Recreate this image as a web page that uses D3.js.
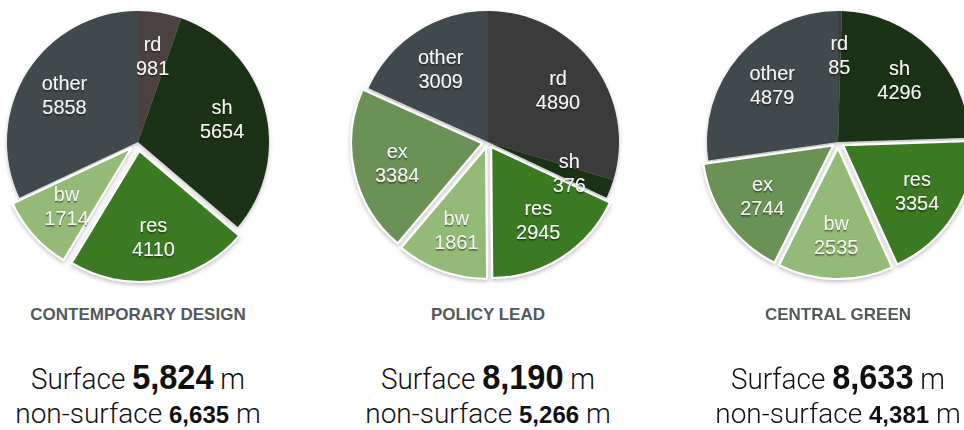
<!DOCTYPE html>
<html>
<head>
<meta charset="utf-8">
<script src="https://cdn.jsdelivr.net/npm/d3@7"></script>
<style>
  html, body { margin: 0; padding: 0; background: #ffffff; }
  svg { display: block; }
</style>
</head>
<body>
<svg id="chart" width="964" height="430"></svg>
<script>
// Length of path by category for three design options
const categories = ["rd", "sh", "res", "bw", "ex", "other"];
const designs = ["CONTEMPORARY DESIGN", "POLICY LEAD", "CENTRAL GREEN"];
const contemporaryValues = [981, 5654, 4110, 1714, 0, 5858];
const policyValues = [4890, 376, 2945, 1861, 3384, 3009];
const centralValues = [85, 4296, 3354, 2535, 2744, 4879];
const surfaceTotals = [5824, 8190, 8633];
const nonSurfaceTotals = [6635, 5266, 4381];
const pulledOut = ["res", "bw", "ex"];

const seriesByDesign = [contemporaryValues, policyValues, centralValues];

const svg = d3.select("#chart");

const radius = 131;
const pieY = 142;
const explode = [9, 6, 6];

const x = d3.scalePoint().domain(designs).range([138, 838]);

const palette = {
  rd: "#3c3b3a",
  sh: "#1b3217",
  res: "#3a7a23",
  bw: "#93ba76",
  ex: "#6a9157",
  other: "#3f484b"
};
const rdShade = ["#4a433f", "#3b3b3b", "#3b4144"];

const defs = svg.append("defs");
const pieShadow = defs.append("filter").attr("id", "pieShadow")
  .attr("x", "-20%").attr("y", "-20%").attr("width", "140%").attr("height", "140%");
pieShadow.append("feDropShadow")
  .attr("dx", 0).attr("dy", 2).attr("stdDeviation", 2)
  .attr("flood-color", "#000").attr("flood-opacity", 0.25);

const textShadow = defs.append("filter").attr("id", "textShadow")
  .attr("x", "-20%").attr("y", "-20%").attr("width", "140%").attr("height", "140%");
textShadow.append("feDropShadow")
  .attr("dx", 0).attr("dy", 1).attr("stdDeviation", 0.8)
  .attr("flood-color", "#000").attr("flood-opacity", 0.75);

const pie = d3.pie().sort(null).value(d => d.value);
const arc = d3.arc().innerRadius(0).outerRadius(radius);
const fmt = d3.format(",");

designs.forEach((name, i) => {
  const rows = categories.map((c, j) => ({ category: c, value: seriesByDesign[i][j] }))
    .filter(d => d.value > 0);
  const slices = pie(rows);
  const cx = x(name);

  const g = svg.append("g").attr("transform", `translate(${cx},${pieY})`);
  const pieG = g.append("g").attr("filter", "url(#pieShadow)");

  const isOut = d => pulledOut.includes(d.data.category);
  const shift = d => {
    if (!isOut(d)) return [0, 0];
    const a = (d.startAngle + d.endAngle) / 2;
    return [Math.sin(a) * explode[i], -Math.cos(a) * explode[i]];
  };

  // slices that stay in place first, pulled-out wedges on top with a white rim
  pieG.selectAll("path")
    .data(slices.slice().sort((a, b) => isOut(a) - isOut(b)))
    .join("path")
    .attr("transform", d => `translate(${shift(d)})`)
    .attr("d", arc)
    .attr("fill", d => d.data.category === "rd" ? rdShade[i] : palette[d.data.category])
    .attr("stroke", d => isOut(d) ? "#fff" : "none")
    .attr("stroke-width", 2)
    .attr("stroke-linejoin", "round");

  const labelR = radius * 0.665;
  const labels = g.selectAll("text.slice")
    .data(slices)
    .join("text")
    .attr("class", "slice")
    .attr("filter", "url(#textShadow)")
    .attr("transform", d => {
      const a = (d.startAngle + d.endAngle) / 2;
      const [sx, sy] = shift(d);
      return `translate(${Math.sin(a) * labelR + sx},${-Math.cos(a) * labelR + sy}) scale(0.95,1)`;
    })
    .attr("text-anchor", "middle")
    .attr("fill", "#f4f6f2")
    .style("font-family", "'Liberation Sans', Arial, sans-serif")
    .style("font-size", "21px");
  labels.append("tspan").attr("x", 0).attr("y", -5).text(d => d.data.category);
  labels.append("tspan").attr("x", 0).attr("y", 19).text(d => d.data.value);

  // captions below each pie
  const cap = svg.append("g").attr("transform", `translate(${cx},0)`);
  cap.append("text")
    .attr("transform", "translate(0,320)")
    .attr("text-anchor", "middle")
    .attr("fill", "#53585b")
    .style("font-family", "'Liberation Sans', Arial, sans-serif")
    .style("font-weight", "bold")
    .style("font-size", "17px")
    .text(name);

  const line1 = cap.append("text")
    .attr("transform", "translate(0,389) scale(0.93,1)")
    .attr("text-anchor", "middle")
    .attr("fill", "#111")
    .style("font-family", "Roboto, 'Liberation Sans', sans-serif");
  line1.append("tspan").style("font-weight", 300).style("font-size", "30px").text("Surface ");
  line1.append("tspan").style("font-weight", 700).style("font-size", "35px")
    .style("font-family", "'Liberation Sans', Arial, sans-serif").text(fmt(surfaceTotals[i]));
  line1.append("tspan").style("font-weight", 300).style("font-size", "30px").text(" m");

  const line2 = cap.append("text")
    .attr("transform", "translate(0,423) scale(1.0,1)")
    .attr("text-anchor", "middle")
    .attr("fill", "#111")
    .style("font-family", "Roboto, 'Liberation Sans', sans-serif");
  line2.append("tspan").style("font-weight", 300).style("font-size", "28px").text("non-surface ");
  line2.append("tspan").style("font-weight", 700).style("font-size", "24px")
    .style("font-family", "'Liberation Sans', Arial, sans-serif").text(fmt(nonSurfaceTotals[i]));
  line2.append("tspan").style("font-weight", 300).style("font-size", "28px").text(" m");
});
</script>
</body>
</html>
